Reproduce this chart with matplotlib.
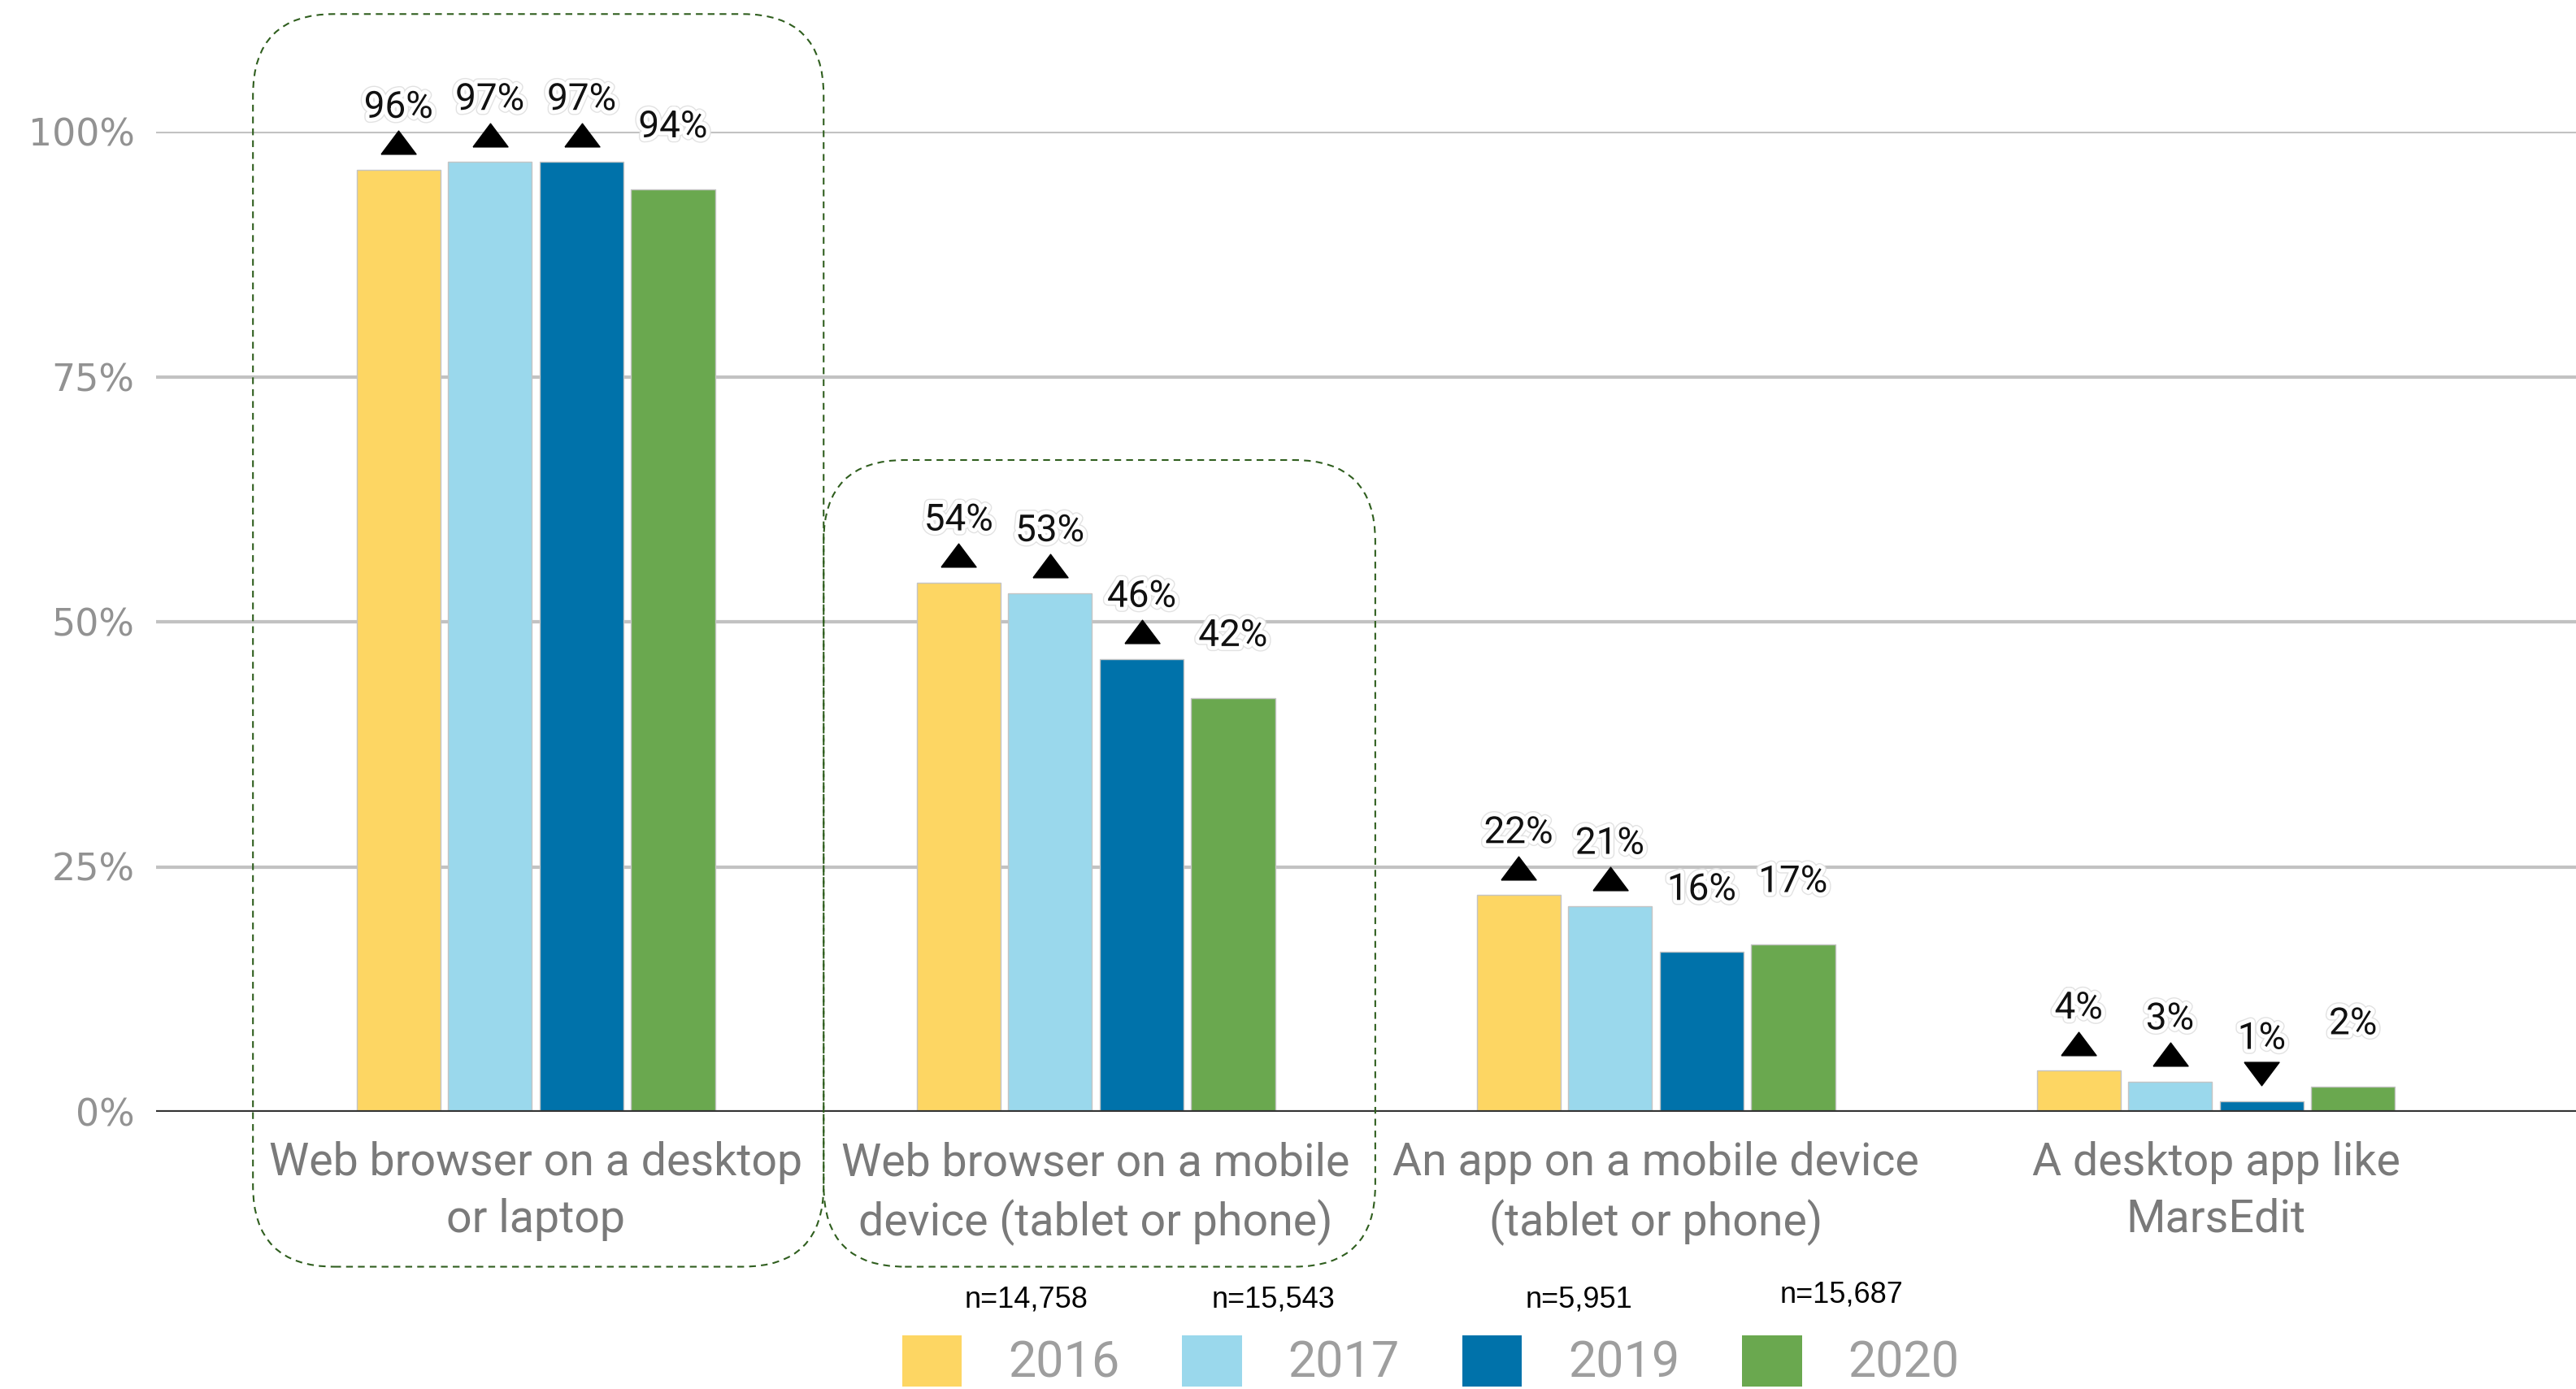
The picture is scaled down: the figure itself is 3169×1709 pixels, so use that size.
import matplotlib
matplotlib.use("Agg")
import matplotlib.pyplot as plt
import matplotlib.patheffects as pe
from matplotlib.patches import FancyBboxPatch, Patch
import numpy as np

# ── data ─────────────────────────────────────────────
categories = [
    "Web browser on a desktop\nor laptop",
    "Web browser on a mobile\ndevice (tablet or phone)",
    "An app on a mobile device\n(tablet or phone)",
    "A desktop app like\nMarsEdit",
]
years = ["2016", "2017", "2019", "2020"]
sample_sizes = ["n=14,758", "n=15,543", "n=5,951", "n=15,687"]

share_2016 = [96.1, 54.0, 22.1, 4.2]
share_2017 = [96.9, 52.9, 21.0, 3.1]
share_2019 = [96.9, 46.2, 16.3, 1.1]
share_2020 = [94.1, 42.2, 17.1, 2.6]

labels_2016 = ["96%", "54%", "22%", "4%"]
labels_2017 = ["97%", "53%", "21%", "3%"]
labels_2019 = ["97%", "46%", "16%", "1%"]
labels_2020 = ["94%", "42%", "17%", "2%"]

# change vs. 2020 marker: "up", "down" or ""
trend_2016 = ["up", "up", "up", "up"]
trend_2017 = ["up", "up", "up", "up"]
trend_2019 = ["up", "up", "", "down"]
trend_2020 = ["", "", "", ""]

# dashed boxes round the first two groups (x in category units, top in %)
box_left = [-0.505, 0.514]
box_right = [0.514, 1.499]
box_top = [112, 66.5]
box_bottom = -15.8

# ── style ────────────────────────────────────────────
COLOURS = ["#FDD663", "#9AD8EC", "#0072AA", "#6AA84F"]
GREY_TXT = "#7a7a7a"
W, H = 3169, 1709

series = [share_2016, share_2017, share_2019, share_2020]
labels = [labels_2016, labels_2017, labels_2019, labels_2020]
trends = [trend_2016, trend_2017, trend_2019, trend_2020]

fig = plt.figure(figsize=(W / 100, H / 100), dpi=100)
ax = fig.add_axes([192 / W, 341 / H, 1 - 192 / W, 1206 / H])

x = np.arange(len(categories))
bar_w = 0.15
offsets = [-0.245, -0.082, 0.082, 0.245]

up = [(-1.5, -1), (1.5, -1), (0, 1), (-1.5, -1)]
down = [(-1.5, 1), (1.5, 1), (0, -1), (-1.5, 1)]

halo = [pe.Stroke(linewidth=9, foreground="#e2e2e2"),
        pe.Stroke(linewidth=7, foreground="white"), pe.Normal()]

for vals, labs, trs, col, off in zip(series, labels, trends, COLOURS, offsets):
    xs = x + off
    ax.bar(xs, vals, width=bar_w, color=col, edgecolor="#c4c4c4",
           linewidth=1, zorder=3)
    for xi, v, lab, tr in zip(xs, vals, labs, trs):
        ax.text(xi, v + 6.4, lab, ha="center", va="center", fontsize=33,
                family="Roboto", color="#111111", zorder=5,
                path_effects=halo)
        if tr:
            ax.plot([xi], [v + 2.8], marker=up if tr == "up" else down,
                    markersize=31, color="black", linestyle="none",
                    clip_on=False, zorder=5)

# dashed highlight boxes
x_px = (W - 192) / (3.643 + 0.678)
y_px = 12.06
rad = 100
for l, r, top in zip(box_left, box_right, box_top):
    box = FancyBboxPatch(
        (l, box_bottom), r - l, top - box_bottom,
        boxstyle=f"round,pad=0,rounding_size={rad / x_px}",
        mutation_aspect=x_px / y_px,
        facecolor="none", edgecolor="#2f5e1e", linewidth=1.5,
        linestyle=(0, (4, 3)), clip_on=False, zorder=6,
    )
    ax.add_patch(box)

ax.set_xlim(-0.678, 3.643)
ax.set_ylim(0, 100)
ax.set_yticks([0, 25, 50, 75, 100])
ax.set_yticklabels(["0%", "25%", "50%", "75%", "100%"])
ax.set_xticks(x)
ax.set_xticklabels(categories, fontsize=40, family="Roboto", color=GREY_TXT,
                   linespacing=1.4)

for t in ax.get_yticklabels():
    t.set_fontsize(33)
    t.set_family("DejaVu Sans")
    t.set_color("#929292")

ax.tick_params(axis="y", length=0, pad=19)
ax.tick_params(axis="x", length=0, pad=26)
for s in ax.spines.values():
    s.set_visible(False)

ax.grid(axis="y", color="#c2c2c2", linewidth=3, zorder=0)
ax.set_axisbelow(True)
ax.axhline(0, color="#333333", linewidth=3, zorder=4)

# legend + sample sizes
handles = [Patch(facecolor=c, edgecolor="none", label=y)
           for c, y in zip(COLOURS, years)]
fig.legend(handles=handles, loc="upper left",
           bbox_to_anchor=(1110 / W, 1 - 1643 / H), ncol=4, frameon=False,
           borderpad=0, borderaxespad=0, handlelength=1.2, handleheight=1.2,
           handletextpad=0.93, columnspacing=1.26, labelcolor="#9e9e9e",
           prop={"family": "Roboto", "size": 44})

n_pos = [(1263, 1599), (1566, 1599), (1942, 1599), (2266, 1593)]
for (px, py), n in zip(n_pos, sample_sizes):
    fig.text(px / W, 1 - py / H, n, ha="center", va="center", fontsize=26,
             family="Liberation Sans", color="black")

fig.savefig("out.png", dpi=100, facecolor="white")
